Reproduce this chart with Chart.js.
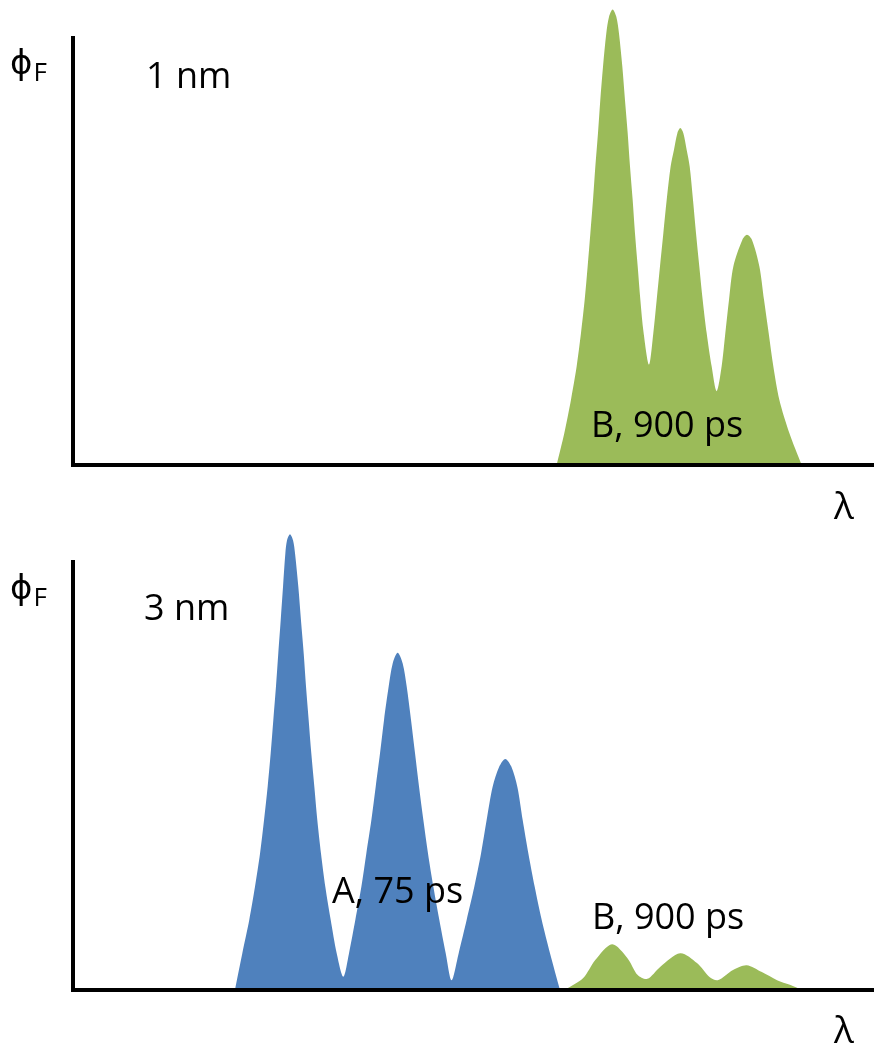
<!DOCTYPE html>
<html>
<head>
<meta charset="utf-8">
<script src="https://cdn.jsdelivr.net/npm/chart.js@4.4.1/dist/chart.umd.min.js"></script>
<style>
  html, body { margin: 0; padding: 0; background: #fff; }
  body { width: 874px; height: 1043px; position: relative; overflow: hidden; font-family: "Open Sans", sans-serif; color: #000; }
  canvas { position: absolute; left: 0; }
  #c1 { top: 0; }
  #c2 { top: 520px; }
  .t { position: absolute; font-size: 36px; line-height: normal; white-space: nowrap; }
  .lam { position: absolute; font-size: 37px; line-height: normal; white-space: nowrap; }
  .phi { position: absolute; font-family: "DejaVu Sans", sans-serif; font-size: 34px; line-height: normal; white-space: nowrap; }
  .phi sub { font-family: "Open Sans", sans-serif; font-size: 26px; vertical-align: baseline; position: relative; top: 7px; margin-left: 1px; }
</style>
</head>
<body>
<canvas id="c1" width="874" height="520"></canvas>
<canvas id="c2" width="874" height="523"></canvas>

<div class="phi" style="left:10px; top:42px;">ϕ<sub>F</sub></div>
<div class="t" style="left:146px; top:50px;">1 nm</div>
<div class="t" style="left:591px; top:399px;">B, 900 ps</div>
<div class="lam" style="left:834px; top:479px;">λ</div>

<div class="phi" style="left:10px; top:567px;">ϕ<sub>F</sub></div>
<div class="t" style="left:144px; top:582px;">3 nm</div>
<div class="t" style="left:332px; top:865px;">A, 75 ps</div>
<div class="t" style="left:592px; top:891px;">B, 900 ps</div>
<div class="lam" style="left:834px; top:1003px;">λ</div>

<script>
// ---- Data (x: relative wavelength 0-100, y: relative fluorescence, 100 = top of the axis line) ----
// Panel 1 (1 nm): species B emission
const topGreenX = [60.38, 61.34, 62.17, 62.88, 63.42, 63.88, 64.25, 64.59, 64.92, 65.21, 65.54, 65.83, 66.17, 66.58, 66.92, 67.37,
                   67.83, 68.16, 68.58, 68.91, 69.25, 69.54, 69.87, 70.16, 70.50, 70.83, 71.24, 71.91,
                   72.45, 72.87, 73.28, 73.70, 74.12, 74.61, 75.03, 75.45, 75.82,
                   76.20, 76.61, 76.99, 77.40, 77.78, 78.19, 78.61, 79.11, 79.73, 80.36,
                   80.98, 81.44, 81.90, 82.44, 83.56, 84.14,
                   84.77, 85.69, 86.27, 86.85, 87.43, 88.18, 89.43, 90.97];
const topGreenY = [0, 7.5, 15.3, 23.1, 30.9, 38.7, 46.5, 54.3, 62.1, 69.9, 77.7, 85.5, 93.3, 101.1, 105.0, 106.7,
                   105.0, 101.1, 93.3, 85.5, 77.7, 69.9, 62.1, 54.3, 46.5, 38.7, 30.9, 23.5,
                   30.9, 38.7, 46.5, 54.3, 62.1, 69.9, 73.8, 77.7, 78.9,
                   77.7, 73.8, 69.9, 62.1, 54.3, 46.5, 38.7, 30.9, 23.1, 17.3,
                   23.1, 30.9, 38.7, 46.5, 52.7, 53.9,
                   52.7, 46.5, 38.7, 30.9, 23.1, 15.3, 7.5, 0];

// Panel 2 (3 nm): species A emission
const bottomBlueX = [20.22, 21.14, 22.01, 22.72, 23.35, 23.85, 24.30, 24.68, 25.01, 25.34, 25.63, 25.93, 26.22, 26.51, 26.72, 27.09,
                     27.47, 27.72, 28.13, 28.46, 28.80, 29.09, 29.42, 29.75, 30.13, 30.50, 30.96, 31.50, 32.17, 32.92, 33.75,
                     34.46, 35.25, 36.00, 36.62, 37.25, 37.79, 38.33, 38.83, 39.41, 39.91, 40.53,
                     41.16, 41.66, 42.20, 42.70, 43.20, 43.74, 44.32, 44.99, 45.73, 46.53, 47.27,
                     48.15, 49.15, 50.10, 50.94, 51.64, 52.39, 53.22, 53.97,
                     54.72, 55.47, 56.14, 56.85, 57.64, 58.51, 59.55, 60.80];
const bottomBlueY = [0, 8.6, 16.4, 24.1, 31.9, 39.7, 47.5, 55.3, 63.1, 70.9, 78.7, 86.4, 94.2, 102.0, 105.1, 106.5,
                     105.1, 102.0, 94.2, 86.4, 78.7, 70.9, 63.1, 55.3, 47.5, 39.7, 31.9, 24.1, 16.4, 8.6, 3.1,
                     8.6, 16.4, 24.1, 31.9, 39.7, 47.5, 55.3, 63.1, 70.9, 76.3, 78.8,
                     76.3, 70.9, 63.1, 55.3, 47.5, 39.7, 31.9, 24.1, 16.4, 8.6, 2.3,
                     8.6, 16.4, 24.1, 31.9, 39.7, 47.5, 52.2, 54.0,
                     52.2, 47.5, 39.7, 31.9, 24.1, 16.4, 8.6, 0];

// Panel 2 (3 nm): species B emission (weak)
const bottomGreenX = [61.4, 63.7, 65.2, 67.3, 69.2, 70.5, 71.7, 73.3, 75.8, 77.9, 79.5, 80.5, 82.4, 84.1, 86.0, 87.9, 89.5, 91.0];
const bottomGreenY = [0, 2.8, 7.0, 10.7, 7.5, 3.5, 2.6, 5.4, 8.6, 6.3, 3.0, 2.3, 4.7, 5.8, 4.2, 2.3, 1.2, 0];

const GREEN = '#9BBB59';
const BLUE = '#4F81BD';

function pts(xs, ys) { return xs.map((x, i) => ({ x: x, y: ys[i] })); }

function series(xs, ys, color) {
  return {
    data: pts(xs, ys),
    yAxisID: 'y',
    backgroundColor: color,
    borderColor: 'rgba(0,0,0,0)',
    borderWidth: 1,
    pointRadius: 0,
    fill: 'origin',
    tension: 0.3,
    clip: false
  };
}

const hidden = { display: false, drawTicks: false };

function makeChart(id, datasets, padTop, padBottom, headroom, axisHeight) {
  return new Chart(document.getElementById(id), {
    type: 'line',
    data: { datasets: datasets },
    options: {
      responsive: false,
      animation: false,
      devicePixelRatio: 1,
      layout: { padding: { left: 73, right: 0, top: padTop, bottom: padBottom } },
      plugins: { legend: { display: false }, tooltip: { enabled: false } },
      scales: {
        x: {
          type: 'linear', min: 0, max: 100,
          ticks: { display: false },
          grid: hidden,
          border: { display: true, color: '#000', width: 4, z: 1 }
        },
        y: {
          type: 'linear', position: 'left', min: 0, max: 100,
          stack: 'v', stackWeight: axisHeight,
          ticks: { display: false },
          grid: hidden,
          border: { display: true, color: '#000', width: 4, z: 1 }
        },
        yRoom: {
          type: 'linear', position: 'left', min: 0, max: 1,
          stack: 'v', stackWeight: headroom,
          ticks: { display: false },
          grid: hidden,
          border: { display: false }
        }
      }
    }
  });
}

makeChart('c1', [series(topGreenX, topGreenY, GREEN)], 5, 55, 33, 427);
makeChart('c2', [series(bottomBlueX, bottomBlueY, BLUE), series(bottomGreenX, bottomGreenY, GREEN)], 10, 53, 32, 428);
</script>
</body>
</html>
